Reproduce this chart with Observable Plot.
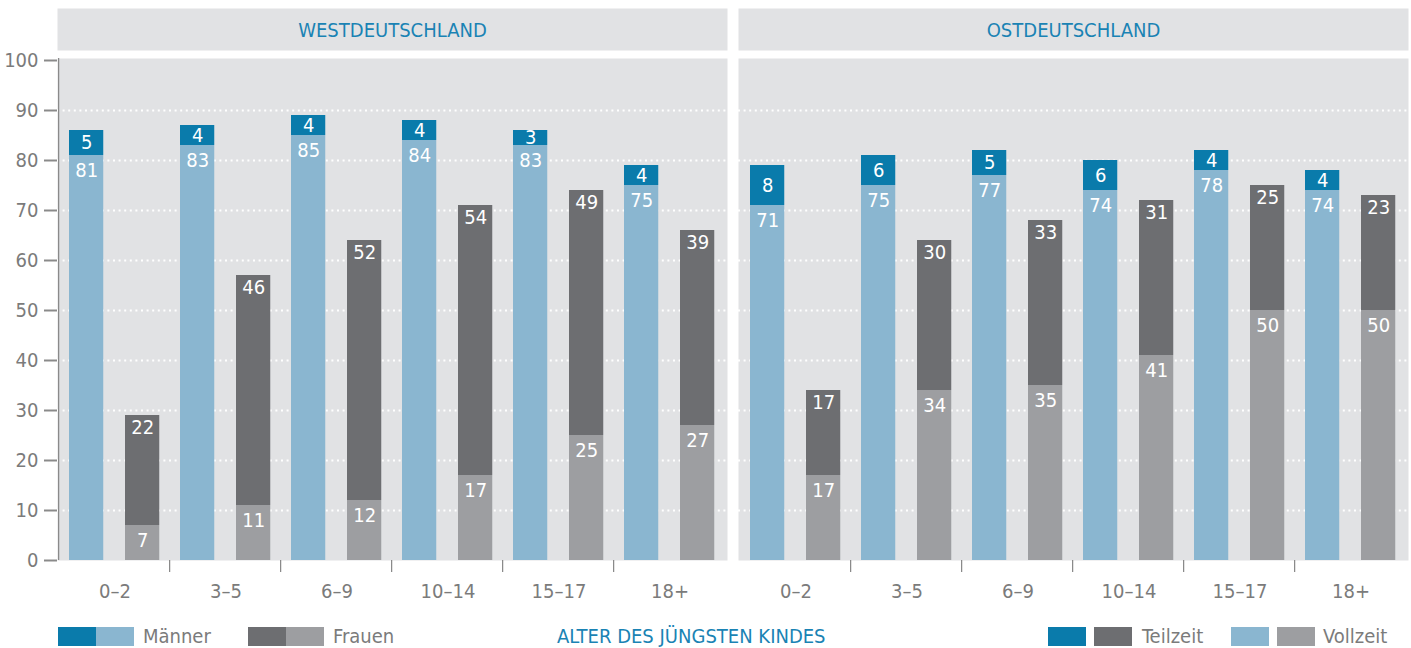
<!DOCTYPE html>
<html><head><meta charset="utf-8">
<script src="https://cdn.jsdelivr.net/npm/d3@7"></script>
<script src="https://cdn.jsdelivr.net/npm/@observablehq/plot@0.6"></script>
<style>
body{margin:0;background:#fff;font-family:"Liberation Sans Narrow","DejaVu Sans Condensed","Roboto",sans-serif;}
#legend{position:relative;width:1411px;height:36px;}
#legend .sw{position:absolute;top:15px;height:19px;width:38px;}
#legend .lt{position:absolute;top:11px;font-size:20px;line-height:26px;color:#7b7b7b;white-space:nowrap;}
#legend .ax{color:#1a83b4;}
</style></head><body>
<div id="chart"></div>
<div id="legend"></div>
<script>
const regions = ["WESTDEUTSCHLAND", "OSTDEUTSCHLAND"];
const ages = ["0–2", "3–5", "6–9", "10–14", "15–17", "18+"];
const sexes = ["Männer", "Frauen"];
const types = ["Vollzeit", "Teilzeit"];
const westMaennerVoll = [81, 83, 85, 84, 83, 75];
const westMaennerTeil = [5, 4, 4, 4, 3, 4];
const westFrauenVoll = [7, 11, 12, 17, 25, 27];
const westFrauenTeil = [22, 46, 52, 54, 49, 39];
const ostMaennerVoll = [71, 75, 77, 74, 78, 74];
const ostMaennerTeil = [8, 6, 5, 6, 4, 4];
const ostFrauenVoll = [17, 34, 35, 41, 50, 50];
const ostFrauenTeil = [17, 30, 33, 31, 25, 23];
const yTicks = [0, 10, 20, 30, 40, 50, 60, 70, 80, 90, 100];
const colorKeys = ["Männer-Teilzeit", "Männer-Vollzeit", "Frauen-Teilzeit", "Frauen-Vollzeit"];
const colorRange = ["#0a7bab", "#8ab6d0", "#6d6e71", "#9d9ea1"];

const rows = [];
function add(region, sex, voll, teil) {
  ages.forEach((a, i) => {
    rows.push({region, age: a, sex, type: "Vollzeit", key: sex + "-Vollzeit", value: voll[i]});
    rows.push({region, age: a, sex, type: "Teilzeit", key: sex + "-Teilzeit", value: teil[i]});
  });
}
add(regions[0], "Männer", westMaennerVoll, westMaennerTeil);
add(regions[0], "Frauen", westFrauenVoll, westFrauenTeil);
add(regions[1], "Männer", ostMaennerVoll, ostMaennerTeil);
add(regions[1], "Frauen", ostFrauenVoll, ostFrauenTeil);

const W = 1411, H = 612, mL = 57, mR = 2, mT = 60, mB = 52;
const gap = 11;
const total = W - mL - mR;
const fxStep = (total + gap) / 2;
const fxPad = gap / fxStep;
const panelW = fxStep - gap;
const step = panelW / ages.length;
const barW = 35;
const offM = 10, offF = 66;
const plotH = H - mT - mB;
const font = '"Liberation Sans Narrow","DejaVu Sans Condensed",sans-serif';

const marks = [
  Plot.frame({fill: "#e1e2e4", insetTop: -2}),
  Plot.frame({fill: "#e1e2e4", insetTop: -(mT - 8), insetBottom: plotH + 10}),
  Plot.gridY(yTicks.slice(1, -1), {stroke: "#fff", strokeOpacity: 1, strokeWidth: 2, strokeDasharray: "2 3.6"}),
  Plot.text(regions, {fx: d => d, text: d => d, frameAnchor: "top", lineAnchor: "middle", dy: -(mT - 30), fill: "#1a83b4", fontSize: 20})
];
sexes.forEach(sex => {
  const data = rows.filter(r => r.sex === sex);
  const il = sex === "Männer" ? offM : offF;
  const ir = step - il - barW;
  const dx = il + barW / 2 - step / 2;
  marks.push(Plot.barY(data, Plot.stackY({x: "age", y: "value", fx: "region", fill: "key", insetLeft: il, insetRight: ir})));
  // Vollzeit labels: just below the top of the light segment
  marks.push(Plot.text(data, Plot.stackY2({
    x: "age", y: "value", fx: "region",
    text: d => d.type === "Vollzeit" ? String(d.value) : null,
    dx, dy: 15, fill: "#fff", fontSize: 20
  })));
  // Teilzeit labels: centred in small (Männer) segments, near the top of the tall (Frauen) ones
  if (sex === "Männer") {
    marks.push(Plot.text(data, Plot.stackY({
      x: "age", y: "value", fx: "region",
      text: d => d.type === "Teilzeit" ? String(d.value) : null,
      dx, dy: 0, fill: "#fff", fontSize: 20
    })));
  } else {
    marks.push(Plot.text(data, Plot.stackY2({
      x: "age", y: "value", fx: "region",
      text: d => d.type === "Teilzeit" ? String(d.value) : null,
      dx, dy: 12, fill: "#fff", fontSize: 20
    })));
  }
});
// boundary tick marks below the axis and the y-axis line
marks.push(Plot.barY(ages.slice(1), {x: d => d, y1: 0, y2: -2.4, insetLeft: -1, insetRight: step - 1, fill: "#8a8a8a"}));
marks.push(Plot.barY([{region: regions[0], age: ages[0]}], {x: "age", fx: "region", y1: 0, y2: 100, insetTop: -2, insetLeft: -1, insetRight: step - 1, fill: "#8a8a8a"}));
marks.push(Plot.axisY({ticks: yTicks, tickSize: 13, tickPadding: 6, strokeWidth: 2, stroke: "#8a8a8a", fontSize: 20}));
marks.push(Plot.axisX({tickSize: 0, tickPadding: 23, fontSize: 20}));

const chart = Plot.plot({
  width: W, height: H,
  marginLeft: mL, marginRight: mR, marginTop: mT, marginBottom: mB,
  style: {fontFamily: font, fontSize: "20px", color: "#7b7b7b", background: "#fff"},
  fx: {domain: regions, padding: fxPad, axis: null, label: null},
  x: {domain: ages, padding: 0, label: null},
  y: {domain: [0, 100], label: null},
  color: {domain: colorKeys, range: colorRange},
  marks
});
document.getElementById("chart").appendChild(chart);

// legend (HTML)
const legendItems = [
  {sw: [["#0a7bab", 58], ["#8ab6d0", 96]], label: "Männer", lx: 143},
  {sw: [["#6d6e71", 248], ["#9d9ea1", 286]], label: "Frauen", lx: 333},
  {sw: [["#0a7bab", 1048], ["#6d6e71", 1094]], label: "Teilzeit", lx: 1142},
  {sw: [["#8ab6d0", 1231], ["#9d9ea1", 1277]], label: "Vollzeit", lx: 1323}
];
const leg = document.getElementById("legend");
legendItems.forEach(it => {
  it.sw.forEach(([c, x]) => {
    const d = document.createElement("div");
    d.className = "sw"; d.style.left = x + "px"; d.style.background = c;
    leg.appendChild(d);
  });
  const t = document.createElement("div");
  t.className = "lt"; t.style.left = it.lx + "px"; t.textContent = it.label;
  leg.appendChild(t);
});
const ax = document.createElement("div");
ax.className = "lt ax"; ax.style.left = "557px"; ax.textContent = "ALTER DES JÜNGSTEN KINDES";
leg.appendChild(ax);
</script>
</body></html>
